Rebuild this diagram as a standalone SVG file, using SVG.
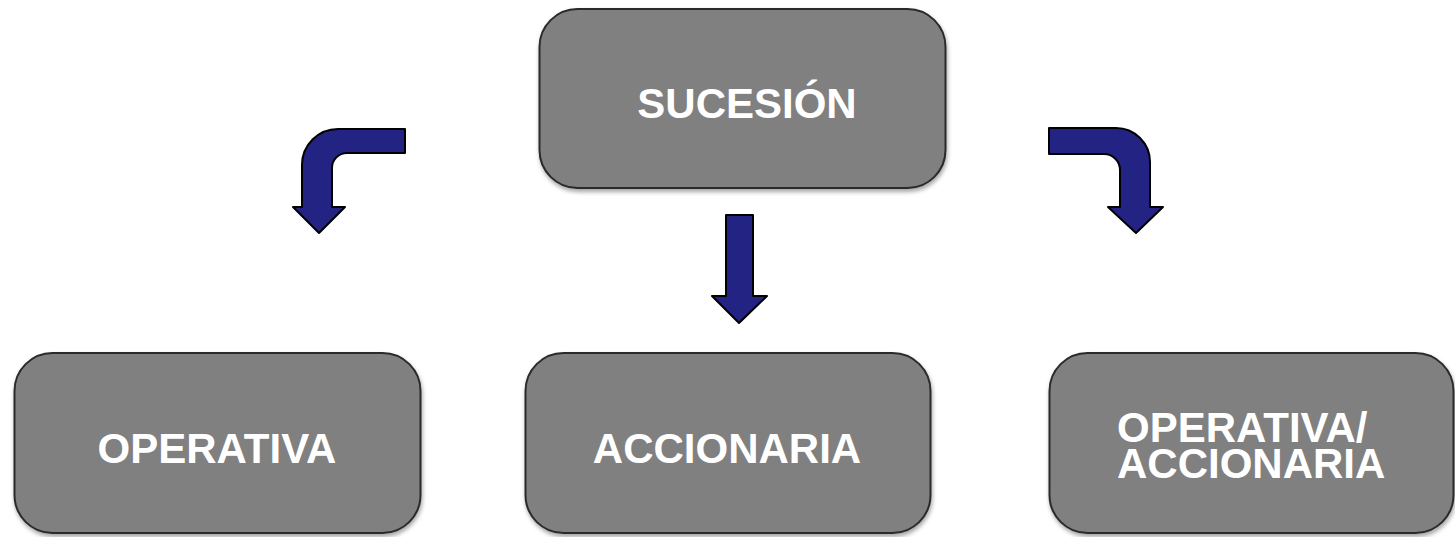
<svg xmlns="http://www.w3.org/2000/svg" width="1455" height="537" viewBox="0 0 1455 537">
<defs>
<style>
.box{fill:#808080;stroke:#2b2b2b;stroke-width:2;filter:url(#sh)}
.lbl{font-family:"Liberation Sans",Arial,sans-serif;font-weight:bold;font-size:42px;fill:#ffffff}
.arr{fill:#232383;stroke:#000;stroke-width:2;stroke-linejoin:round}
</style>
<filter id="sh" x="-5%" y="-5%" width="110%" height="115%">
<feDropShadow dx="1" dy="3" stdDeviation="2" flood-color="#000" flood-opacity="0.35"/>
</filter>
</defs>
<g id="node-sucesion">
<rect class="box" x="539.5" y="9" width="406" height="179" rx="38"/>
<text class="lbl" x="747" y="118" text-anchor="middle">SUCESIÓN</text>
</g>
<g id="node-operativa">
<rect class="box" x="14.5" y="353" width="406" height="180" rx="38"/>
<text class="lbl" x="217" y="463" text-anchor="middle">OPERATIVA</text>
</g>
<g id="node-accionaria">
<rect class="box" x="525.5" y="353" width="405" height="180" rx="38"/>
<text class="lbl" x="727" y="463" text-anchor="middle">ACCIONARIA</text>
</g>
<g id="node-operativa-accionaria">
<rect class="box" x="1049.5" y="353" width="404" height="180" rx="38"/>
<text class="lbl" x="1117" y="442">OPERATIVA/</text>
<text class="lbl" x="1117" y="478">ACCIONARIA</text>
</g>
<g id="connectors">
<path class="arr" d="M405,129 H338 A36,36 0 0 0 302,165 V207 H293 L319,233 L345,207 H332 V168 A15,15 0 0 1 347,153 H405 Z"/>
<path class="arr" d="M726,215 H753 V296 H767 L739,323 L712,296 H726 Z"/>
<path class="arr" d="M1049,128 H1116 A34,34 0 0 1 1150,162 V207 H1163 L1136,233 L1108,207 H1120 V170 A16,16 0 0 0 1104,154 H1049 Z"/>
</g>
</svg>
